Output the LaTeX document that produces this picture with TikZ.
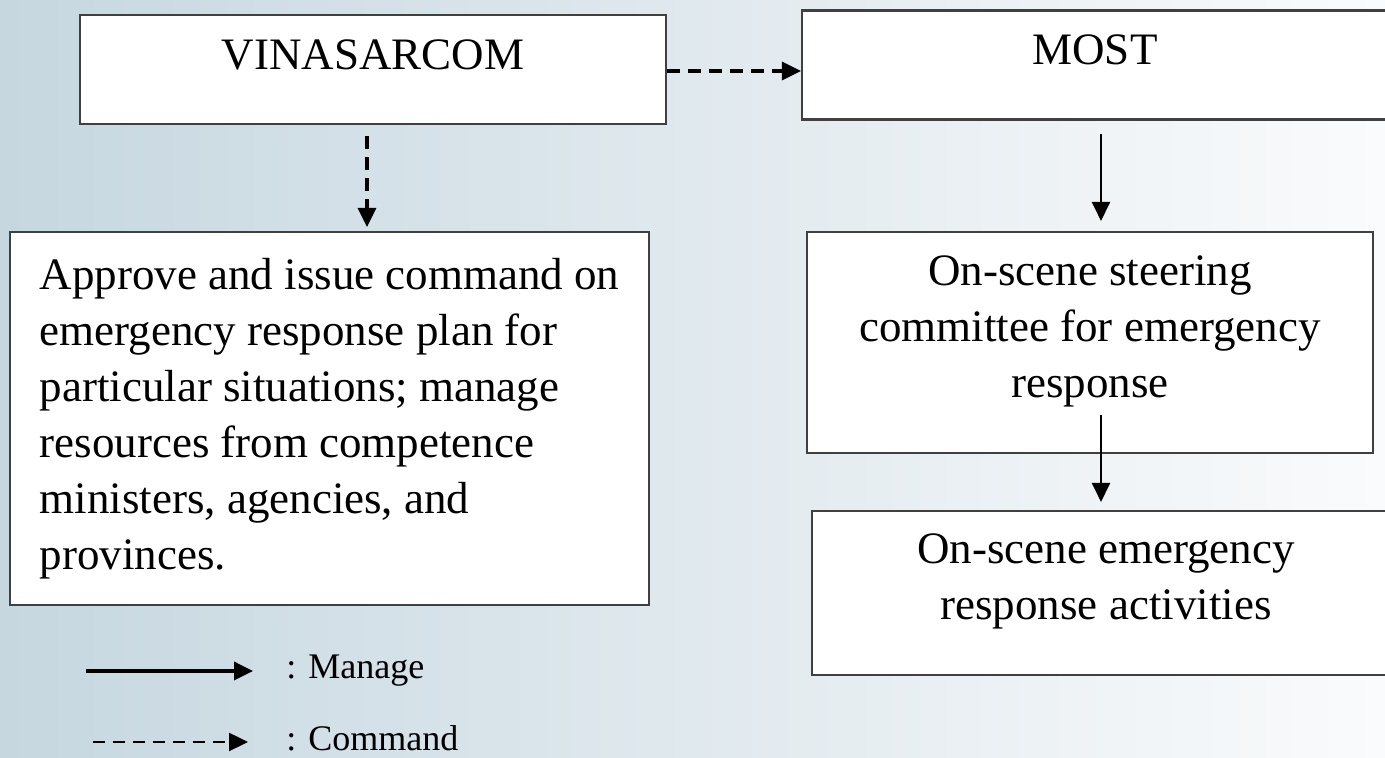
\documentclass[tikz,border=0pt]{standalone}
\usepackage{fontspec}
\setmainfont{Liberation Serif}
\usetikzlibrary{positioning, arrows.meta}
\definecolor{bgleft}{RGB}{198,215,224}
\definecolor{bgright}{RGB}{250,251,252}
\definecolor{edge}{RGB}{64,64,64}
\tikzstyle{box} = [draw = edge, fill = white, line width = 1.2pt, inner sep = 0pt]
\tikzstyle{manage} = [line width = 1.4pt, -{Triangle[length=0.38cm, width=0.36cm]}]
\tikzstyle{command} = [line width = 1.8pt, dash pattern = on 0.26cm off 0.16cm, -{Triangle[length=0.38cm, width=0.36cm]}]
\newcommand{\boxfont}{\fontsize{25.6}{31.9}\selectfont}
\newcommand{\legfont}{\fontsize{20.5}{24}\selectfont}

\begin{document}
\begin{tikzpicture}[font=\boxfont, head/.style={box, minimum width=11.72cm, text height=1.09cm, text depth=1.09cm}]

		% Background
		\useasboundingbox (0,0) rectangle (27.7,15.16);
		\shade[left color=bgleft, right color=bgright] (0,0) rectangle (27.7,15.16);

		% Coordinates
		\coordinate (cy) at (0,13.74);
		\coordinate (vx) at (7.34,0);
		\coordinate (mx) at (22.02,0);

		% Nodes
		\node[head] (vin) at (7.46,13.77) {VINASARCOM};
		\node[head] (most) at (21.9,13.86) {MOST};
		\node[box, minimum width=12.78cm, minimum height=7.46cm, align=left] (approve) at (6.59,6.79) {Approve and issue command on\\emergency response plan for\\particular situations; manage\\resources from competence\\ministers, agencies, and\\provinces.};
		\node[box, minimum width=11.32cm, minimum height=4.42cm] (steer) at (21.8,8.31) {};
		\node[align=center, inner sep=0pt, below=0.49cm of steer.north] (steertxt) {On-scene steering\\committee for emergency\\response};
		\node[box, minimum width=11.76cm, minimum height=3.28cm] (act) at (22.12,3.3) {};
		\node[align=center, inner sep=0pt, below=0.47cm of act.north] (acttxt) {On-scene emergency\\response activities};

		% Manage
		\draw[manage, shorten <=0.26cm, shorten >=0.2cm] (most.south -| mx) -- (steer.north -| mx);
		\draw[manage, shorten <=-0.78cm, shorten >=0.16cm] (steer.south -| mx) -- (act.north -| mx);

		% Command
		\draw[command] (vin.east |- cy) -- (most.west |- cy);
		\draw[command, shorten <=0.22cm, shorten >=0.08cm] (vin.south -| vx) -- (approve.north -| vx);

		% Legend
		\coordinate (m1) at (1.72,1.74);
		\coordinate (m2) at (5.06,1.74);
		\coordinate (c1) at (1.86,0.32);
		\coordinate (c2) at (4.96,0.32);
		\draw[manage, line width=2pt] (m1) -- (m2);
		\draw[command, line width=1.4pt, dash pattern=on 0.24cm off 0.16cm] (c1) -- (c2);
		\node[anchor=base west, font=\legfont, inner sep=0pt] (managetxt) at (5.72,1.58) {: Manage};
		\node[anchor=base west, font=\legfont, inner sep=0pt] (commandtxt) at (5.72,0.14) {: Command};
	\end{tikzpicture}
\end{document}
